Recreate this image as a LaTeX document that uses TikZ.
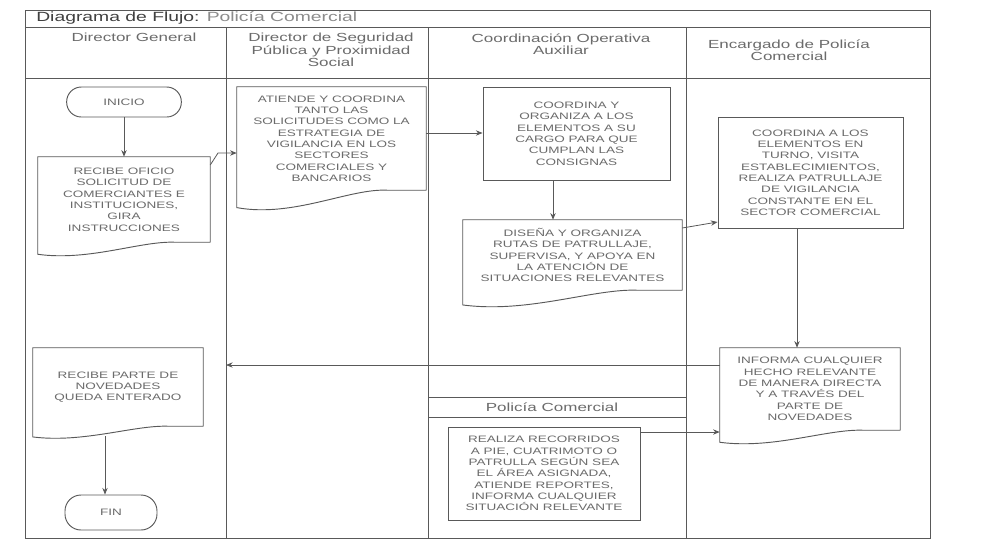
\documentclass[tikz,border=0pt]{standalone}
\usepackage{fontspec}
\setmainfont[FakeStretch=1.45]{Liberation Sans}
\usetikzlibrary{arrows.meta,calc}
\definecolor{ln}{gray}{0.35}
\definecolor{tx}{gray}{0.42}
\tikzset{
  lane/.style={draw=ln, line width=0.6pt},
  boxtext/.style={text=tx, align=center, font=\fontsize{7}{8.5}\selectfont, inner sep=0pt},
  proc/.style={boxtext, draw=ln, line width=0.7pt},
  docu/.style={boxtext},
  term/.style={boxtext, draw=ln, line width=0.7pt, rounded corners=11pt},
  flow/.style={draw=ln, line width=0.6pt, -{Stealth[length=5pt,width=4pt]}},
  lanehead/.style={text=tx, align=center, font=\fontsize{8.8}{9.4}\selectfont, inner sep=0pt},
  docline/.style={draw=ln, line width=0.7pt}
}
\newcommand\docwave[2]{%
  \draw[docline] (#1.south east) -- (#1.north east) -- (#1.north west) --
    ($(#1.south west)+(0,-#2)$)
    .. controls ($(#1.south west)!0.3!(#1.south east)+(0,-1.6*#2)$)
    and ($(#1.south west)!0.6!(#1.south east)+(0,0.15*#2)$)
    .. ($(#1.south west)!0.8!(#1.south east)$) -- (#1.south east);}
\begin{document}
\begin{tikzpicture}[x=0.75pt,y=-0.75pt]
\useasboundingbox (0,0) rectangle (989,551);
\fill[white] (0,0) rectangle (989,551);
% frame and lanes
\draw[lane] (25,10) rectangle (930,538);
\draw[lane] (25,27) -- (930,27);
\draw[lane] (25,78) -- (930,78);
\draw[lane] (226,27) -- (226,538);
\draw[lane] (428,27) -- (428,538);
\draw[lane] (686,27) -- (686,538);
\draw[lane] (428,397) -- (686,397);
\draw[lane] (428,417) -- (686,417);
\coordinate (div1) at (226,365);
% title and headers
\node[anchor=west, inner sep=0pt, font=\fontsize{10}{10}\selectfont] (title) at (36,18)
  {\textcolor{black!75}{Diagrama de Flujo:} \textcolor{black!45}{Policía Comercial}};
\node[lanehead] (h1) at (134,37) {Director General};
\node[lanehead] (h2) at (331,50) {Director de Seguridad\\Pública y Proximidad\\Social};
\node[lanehead] (h3) at (561,44) {Coordinación Operativa\\Auxiliar};
\node[lanehead] (h4) at (789,50) {Encargado de Policía\\Comercial};
\node[lanehead] (h5) at (552,407) {Policía Comercial};
% boxes
\node[term, minimum width=86pt, minimum height=22.5pt] (inicio) at (124,102) {INICIO};
\node[docu, minimum width=129pt, minimum height=63.75pt] (recibe) at (124,199.5)
  {RECIBE OFICIO\\SOLICITUD DE\\COMERCIANTES E\\INSTITUCIONES,\\GIRA\\INSTRUCCIONES};
\docwave{recibe}{9pt}
\node[docu, minimum width=141.75pt, minimum height=77.25pt] (atiende) at (331.5,138.5)
  {ATIENDE Y COORDINA\\TANTO LAS\\SOLICITUDES COMO LA\\ESTRATEGIA DE\\VIGILANCIA EN LOS\\SECTORES\\COMERCIALES Y\\BANCARIOS};
\docwave{atiende}{13pt}
\node[proc, minimum width=140.25pt, minimum height=69.75pt] (coordina) at (576.5,133.5)
  {COORDINA Y\\ORGANIZA A LOS\\ELEMENTOS A SU\\CARGO PARA QUE\\CUMPLAN LAS\\CONSIGNAS};
\node[docu, minimum width=164.25pt, minimum height=52.5pt] (disena) at (572.5,255)
  {DISEÑA Y ORGANIZA\\RUTAS DE PATRULLAJE,\\SUPERVISA, Y APOYA EN\\LA ATENCIÓN DE\\SITUACIONES RELEVANTES};
\docwave{disena}{11pt}
\node[proc, minimum width=138.75pt, minimum height=83.25pt] (elem) at (810.5,172.5)
  {COORDINA A LOS\\ELEMENTOS EN\\TURNO, VISITA\\ESTABLECIMIENTOS,\\REALIZA PATRULLAJE\\DE VIGILANCIA\\CONSTANTE EN EL\\SECTOR COMERCIAL};
\node[docu, minimum width=135pt, minimum height=61.5pt] (informa) at (810,389)
  {INFORMA CUALQUIER\\HECHO RELEVANTE\\DE MANERA DIRECTA\\Y A TRAVÉS DEL\\PARTE DE\\NOVEDADES};
\docwave{informa}{9pt}
\node[docu, minimum width=127.5pt, minimum height=58.5pt] (recparte) at (118,387)
  {RECIBE PARTE DE\\NOVEDADES\\QUEDA ENTERADO};
\docwave{recparte}{8pt}
\node[term, minimum width=69pt, minimum height=26.25pt, rounded corners=12pt] (fin) at (111,512.5) {FIN};
\node[proc, minimum width=144pt, minimum height=69.75pt] (realiza) at (544,473.5)
  {REALIZA RECORRIDOS\\A PIE, CUATRIMOTO O\\PATRULLA SEGÚN SEA\\EL ÁREA ASIGNADA,\\ATIENDE REPORTES,\\INFORMA CUALQUIER\\SITUACIÓN RELEVANTE};
% connectors
\draw[flow] (inicio.south) -- (recibe.north);
\draw[flow] (recibe.east |- 0,165) -- (218,153) -- (atiende.west |- 0,153);
\draw[flow] (atiende.east |- 0,133) -- (coordina.west |- 0,133);
\draw[flow] (coordina.south -| 553,0) -- (disena.north -| 553,0);
\draw[flow] (disena.east |- 0,228) -- (elem.west |- 0,222);
\draw[flow] (elem.south -| 797,0) -- (informa.north -| 797,0);
\draw[flow] (informa.west |- 0,365) -- (div1);
\draw[flow] (realiza.east |- 0,432) -- (informa.west |- 0,432);
\draw[flow] ($(recparte.south)+(-13,10)$) -- ($(fin.north)+(-6,0)$);
\end{tikzpicture}
\end{document}
